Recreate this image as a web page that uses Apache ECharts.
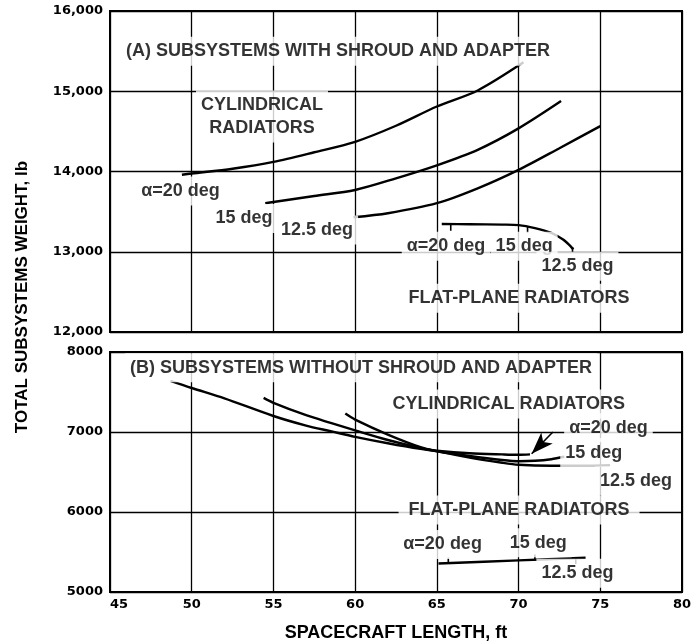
<!DOCTYPE html>
<html><head><meta charset="utf-8">
<script src="https://cdn.jsdelivr.net/npm/echarts@6/dist/echarts.min.js"></script>
<style>html,body{margin:0;padding:0;background:#fff}#c{width:695px;height:643px}</style>
</head><body><div id="c"></div>
<script>
// ---------- data ----------
const xTicks = ['45','50','55','60','65','70','75','80'];
const yTicksTop = ['12,000','13,000','14,000','15,000','16,000'];
const yTicksBottom = ['5000','6000','7000','8000'];

// (A) subsystems with shroud and adapter  [length ft, weight lb]
const cylA20  = [[49.4,13960],[50,13975],[52.5,14035],[55,14120],[57.5,14240],[60,14370],[62.5,14570],[65,14810],[67.5,15010],[70.3,15360]];
const cylA15  = [[54.5,13605],[55,13620],[57.5,13695],[60,13770],[62.5,13915],[65,14077],[67.5,14270],[70,14537],[72.6,14877]];
const cylA125 = [[59.9,13430],[62,13480],[65,13605],[67.5,13790],[70,14020],[72.5,14290],[75,14566]];
const flatA   = [[65.3,13345],[67,13343],[69,13338],[70,13332],[71,13295],[72,13235],[72.7,13155],[73.1,13085],[73.35,13030]];
const flatATicks = [[[65.85,13343],[65.85,13262]],[[70.55,13318],[70.55,13237]],[[73.3,13060],[73.3,12985]]];

// (B) subsystems without shroud and adapter
const cylB20  = [[48.7,7640],[50,7550],[52,7420],[55,7200],[57,7080],[58.5,7010],[60,6940],[62,6860],[64,6790],[65,6765],[67,6735],[69,6720],[70,6715],[70.7,6720]];
const cylB15  = [[54.4,7426],[55,7365],[57,7210],[58.5,7114],[60,7020],[62,6900],[64,6800],[65,6760],[67,6700],[69,6650],[70,6635],[71,6640],[72,6660],[72.8,6690]];
const cylB125 = [[59.4,7230],[60,7155],[62,6968],[64,6810],[65,6760],[67,6680],[69,6615],[70,6590],[72,6578],[74,6578],[75.6,6585]];
const flatB   = [[65.1,5357],[70,5395],[74.1,5428]];
const flatBTicks = [[[65.7,5362],[65.7,5430]],[[71.0,5402],[71.0,5470]],[[73.5,5420],[73.5,5350]]];
const arrowB  = [[72.1,7000],[70.8,6728]];

// annotations [x ft, y lb, text]
const annotA = [
  [58.95,15499,'(A) SUBSYSTEMS WITH SHROUD AND ADAPTER'],
  [54.3,14684,'CYLINDRICAL\nRADIATORS'],
  [49.31,13757,'α=20 deg'],
  [53.2,13415,'15 deg'],
  [57.67,13272,'12.5 deg'],
  [65.56,13067,'α=20 deg'],
  [70.34,13067,'15 deg'],
  [73.6,12818,'12.5 deg'],
  [70.03,12420,'FLAT-PLANE RADIATORS']
];
const annotB = [
  [60.36,7804,'(B) SUBSYSTEMS WITHOUT SHROUD AND ADAPTER'],
  [69.4,7349,'CYLINDRICAL RADIATORS'],
  [75.5,7052,'α=20 deg'],
  [74.6,6743,'15 deg'],
  [77.19,6388,'12.5 deg'],
  [70.03,6026,'FLAT-PLANE RADIATORS'],
  [65.35,5595,'α=20 deg'],
  [71.2,5616,'15 deg'],
  [73.6,5233,'12.5 deg']
];

// ---------- chart ----------
const FONT = 'Liberation Sans';
const TICKFONT = 'DejaVu Sans';
const chart = echarts.init(document.getElementById('c'), null, {renderer:'canvas'});

function curve(data, g, w) {
  return {type:'line', xAxisIndex:g, yAxisIndex:g, data:data, showSymbol:false, symbol:'none',
    smooth:0.3, silent:true, z:3,
    lineStyle:{color:'#000', width:w||2.4}};
}
function annots(list, g) {
  return {type:'scatter', xAxisIndex:g, yAxisIndex:g, symbolSize:0, silent:true, z:10,
    itemStyle:{color:'#fff'},
    data:list.map(a => {
      const item = {value:[a[0],a[1]], name:a[2]};
      if (a[2].indexOf('FLAT-PLANE') === 0) item.label = {padding:[3,10]};
      return item;
    }),
    label:{show:true, position:'inside', formatter:'{b}', color:'#000', fontFamily:FONT, fontWeight:'bold',
      fontSize:18, lineHeight:23, backgroundColor:'#fff', padding:[3,5], textBorderWidth:0}};
}

const series = [
  curve(cylA20,0), curve(cylA15,0), curve(cylA125,0), curve(flatA,0),
  curve(cylB20,1), curve(cylB15,1), curve(cylB125,1), curve(flatB,1)
];
flatATicks.forEach(t => series.push(curve(t,0,1.6)));
flatBTicks.forEach(t => series.push(curve(t,1,1.6)));
series.push({type:'line', xAxisIndex:1, yAxisIndex:1, data:[], silent:true,
  markLine:{silent:true, symbol:['none','arrow'], symbolSize:[12,22], label:{show:false},
    lineStyle:{color:'#000', width:1.6, type:'solid'}, emphasis:{disabled:true},
    data:[[{coord:arrowB[0]},{coord:arrowB[1]}]]}});
series.push(annots(annotA,0));
series.push(annots(annotB,1));

const splitStyle = {show:true, lineStyle:{color:'#000', width:1.3}};
const xBase = {type:'value', min:45, max:80, interval:5, axisLine:{show:false}, axisTick:{show:false}, splitLine:splitStyle};
const tickLabel = {color:'#000', fontFamily:TICKFONT, fontWeight:'bold', fontSize:13};

chart.setOption({
  animation:false,
  backgroundColor:'#fff',
  grid:[
    {left:110, top:11, width:572, height:321, show:true, borderColor:'#000', borderWidth:2, containLabel:false},
    {left:110, top:352, width:572, height:241, show:true, borderColor:'#000', borderWidth:2, containLabel:false}
  ],
  xAxis:[
    Object.assign({}, xBase, {gridIndex:0, axisLabel:{show:false}}),
    Object.assign({}, xBase, {gridIndex:1,
      axisLabel:Object.assign({show:true, margin:6, alignMinLabel:'left',
        formatter:v => xTicks[Math.round((v-45)/5)]}, tickLabel),
      name:'SPACECRAFT LENGTH, ft', nameLocation:'middle', nameGap:32,
      nameTextStyle:{color:'#000', fontFamily:FONT, fontWeight:'bold', fontSize:18}})
  ],
  yAxis:[
    {type:'value', gridIndex:0, min:12000, max:16000, interval:1000, axisLine:{show:false}, axisTick:{show:false},
      splitLine:splitStyle,
      axisLabel:Object.assign({margin:7, formatter:v => yTicksTop[Math.round((v-12000)/1000)]}, tickLabel)},
    {type:'value', gridIndex:1, min:5000, max:8000, interval:1000, axisLine:{show:false}, axisTick:{show:false},
      splitLine:splitStyle,
      axisLabel:Object.assign({margin:7, formatter:v => yTicksBottom[Math.round((v-5000)/1000)]}, tickLabel)}
  ],
  graphic:[{type:'text', x:22, y:297, rotation:Math.PI/2, silent:true,
    style:{text:'TOTAL SUBSYSTEMS WEIGHT, lb', textAlign:'center', textVerticalAlign:'middle',
      fontFamily:FONT, fontWeight:'bold', fontSize:17, fill:'#000'}}],
  series:series
});
</script></body></html>
